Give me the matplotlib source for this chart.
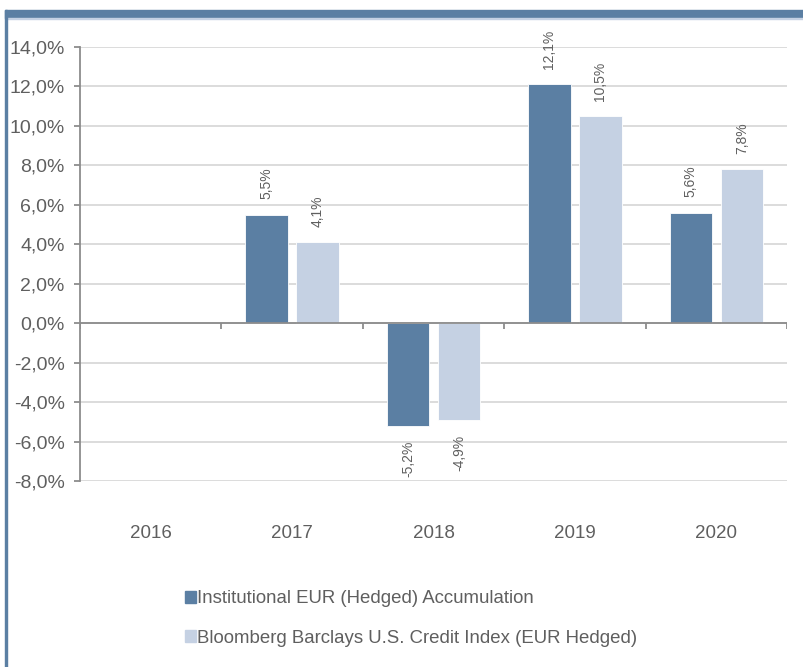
import matplotlib
matplotlib.use("Agg")
import matplotlib.pyplot as plt
import numpy as np
from matplotlib.patches import Rectangle

plt.rcParams['font.family'] = ['Liberation Sans', 'DejaVu Sans']

# Data
years = ['2016', '2017', '2018', '2019', '2020']
fund = [np.nan, 5.5, -5.2, 12.1, 5.6]
index = [np.nan, 4.1, -4.9, 10.5, 7.8]
fund_name = 'Institutional EUR (Hedged) Accumulation'
index_name = 'Bloomberg Barclays U.S. Credit Index (EUR Hedged)'

dark = '#5b7fa3'
light = '#c5d1e3'
text_col = '#5f5f5f'
axis_col = '#8c8c8c'
grid_col = '#d9d9d9'

W, H = 804, 667
fig = plt.figure(figsize=(W / 100, H / 100), dpi=100)

# frame decoration: top band and left line
fig.patches.append(Rectangle((5 / W, 1 - 18 / H), 1, 8 / H, transform=fig.transFigure,
                             color=dark, zorder=0))
fig.patches.append(Rectangle((5 / W, 1 - 19 / H), 1, 1 / H, transform=fig.transFigure,
                             color=light, zorder=0))
fig.patches.append(Rectangle((5 / W, 0), 2 / W, 1 - 10 / H, transform=fig.transFigure,
                             color=dark, zorder=0))

ax = fig.add_axes([80 / W, 1 - 481 / H, (787 - 80) / W, (481 - 47) / H])

x = np.arange(len(years))
bw = 0.3
off = 0.18
b1 = ax.bar(x - off, fund, bw, color=dark, edgecolor='white', linewidth=0.6, zorder=3)
b2 = ax.bar(x + off, index, bw, color=light, edgecolor='white', linewidth=0.6, zorder=3)

for bars, vals in ((b1, fund), (b2, index)):
    for rect, v in zip(bars, vals):
        if np.isnan(v):
            continue
        lbl = f'{v:.1f}%'.replace('.', ',')
        cx = rect.get_x() + rect.get_width() / 2
        ax.annotate(lbl, (cx, v), xytext=(0, 11 if v > 0 else -11),
                    textcoords='offset points', rotation=90, ha='center',
                    va='bottom' if v > 0 else 'top', fontsize=10, color=text_col)

ax.set_xlim(-0.5, len(years) - 0.5)
ax.set_ylim(-8, 14)
ax.set_yticks(np.arange(-8, 15, 2))
ax.set_yticklabels([f'{t:.1f}%'.replace('.', ',') for t in np.arange(-8, 15, 2)])
ax.set_xticks(x)
ax.set_xticklabels(years)

ax.grid(axis='y', color=grid_col, linewidth=1.3, zorder=0)
ax.set_axisbelow(True)
for s in ('top', 'right', 'bottom'):
    ax.spines[s].set_visible(False)
ax.spines['left'].set_color(axis_col)
ax.spines['left'].set_linewidth(1.3)

ax.tick_params(axis='y', length=4, width=1.3, color=axis_col, labelsize=14,
               labelcolor=text_col, pad=7)
ax.tick_params(axis='x', length=0, labelsize=13.5, labelcolor=text_col, pad=32)

# zero line with category separators
ax.axhline(0, color=axis_col, linewidth=1.3, zorder=4)
ax.vlines(np.arange(-0.5, len(years)), -0.28, 0, color=axis_col, linewidth=1.3, zorder=4)

handles = [Rectangle((0, 0), 1, 1, color=dark), Rectangle((0, 0), 1, 1, color=light)]
leg = fig.legend(handles, [fund_name, index_name], loc='upper left',
                 bbox_to_anchor=(176 / W, 1 - 581 / H), frameon=False, fontsize=13.4,
                 handlelength=0.6, handleheight=0.6, handletextpad=0.05,
                 labelspacing=1.2, borderpad=0)
for t in leg.get_texts():
    t.set_color(text_col)

fig.savefig('out.png', dpi=100)
